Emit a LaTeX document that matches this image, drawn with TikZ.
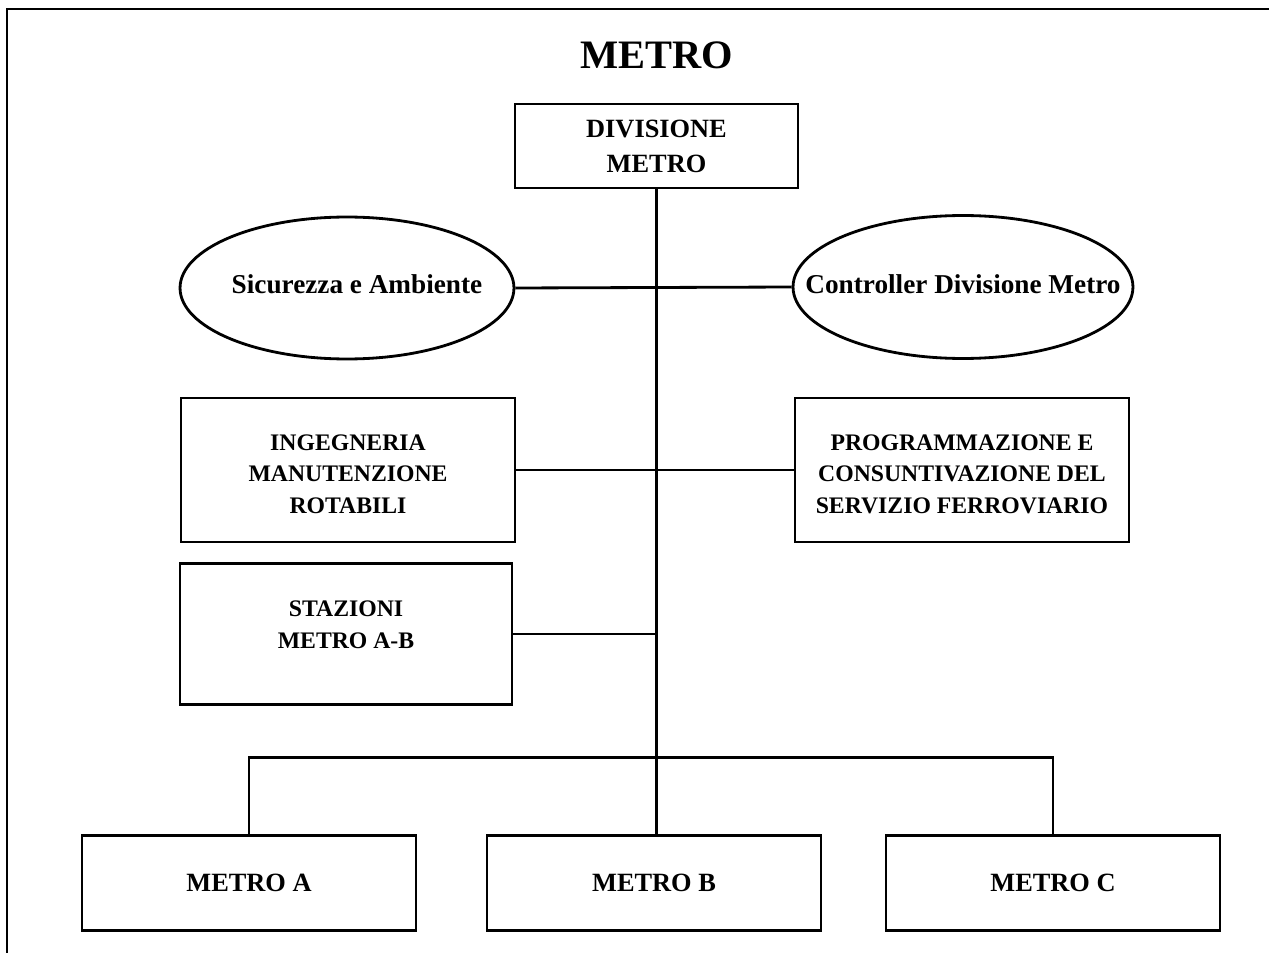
\documentclass[tikz,border=0pt]{standalone}
\usepackage{fontspec}
\setmainfont{Liberation Serif}
\usetikzlibrary{positioning, shapes.geometric}

\begin{document}
\begin{tikzpicture}[
    x=0.02cm, y=-0.02cm,
    box/.style={draw, rectangle, line width=1.6pt, align=center, inner sep=0pt, font=\bfseries\fontsize{13.5}{18}\selectfont},
    oval/.style={draw, ellipse, line width=1.6pt, inner sep=0pt},
    ovaltext/.style={font=\bfseries\fontsize{15.5}{18}\selectfont, inner sep=0pt},
    metrobox/.style={box, minimum width=6.68cm, minimum height=1.9cm, font=\bfseries\fontsize{15}{18}\selectfont},
    link/.style={line width=1.6pt}
]
\useasboundingbox (0,0) rectangle (1269,953);
% frame
\draw[line width=1.4pt] (7,953) -- (7,9) -- (1269,9);

\node[font=\bfseries\fontsize{23}{26}\selectfont, inner sep=0pt] (title) at (657,55) {METRO};
\node[box, minimum width=5.66cm, minimum height=1.68cm, font=\bfseries\fontsize{15}{20}\selectfont] (div) at (656.5,146) {DIVISIONE\\METRO};

\node[oval, minimum width=6.68cm, minimum height=2.84cm] (sic) at (347,288) {};
\node[ovaltext] (sict) at (357,284) {Sicurezza e Ambiente};
\node[oval, minimum width=6.8cm, minimum height=2.86cm] (ctrl) at (963,287) {};
\node[ovaltext] (ctrlt) at (963,284) {Controller Divisione Metro};

\node[box, minimum width=6.68cm, minimum height=2.88cm] (ing) at (348,470) {};
\node[box, draw=none] (ingt) at (348,474) {INGEGNERIA\\MANUTENZIONE\\ROTABILI};
\node[box, minimum width=6.68cm, minimum height=2.88cm] (prog) at (962,470) {};
\node[box, draw=none] (progt) at (962,474) {PROGRAMMAZIONE E\\CONSUNTIVAZIONE DEL\\SERVIZIO FERROVIARIO};
\node[box, minimum width=6.64cm, minimum height=2.82cm] (staz) at (346,634) {};
\node[box, draw=none] (stazt) at (346,625) {STAZIONI\\METRO A-B};

\node[metrobox] (ma) at (249,883) {METRO A};
\node[metrobox] (mb) at (654,883) {METRO B};
\node[metrobox] (mc) at (1053,883) {METRO C};

\draw[link] (div.south) -- (div.south |- mb.north);
\draw[link] (sic.east) -- (ctrl.west);
\draw[link] (ing.east) -- (prog.west);
\draw[link] (staz.east) -- (staz.east -| div.south);
\draw[link] (ma.north) -- ++(0,-77) -| (mc.north);
\end{tikzpicture}
\end{document}
